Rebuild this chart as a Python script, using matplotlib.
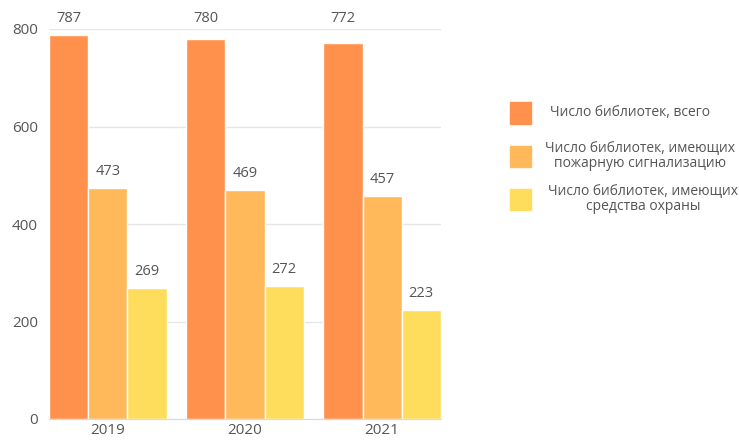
import matplotlib
matplotlib.use("Agg")
import matplotlib.pyplot as plt
from matplotlib.patches import Rectangle
import numpy as np

years = ["2019", "2020", "2021"]
series_names = ["Число библиотек, всего",
                "Число библиотек, имеющих\nпожарную сигнализацию",
                "Число библиотек, имеющих\nсредства охраны"]
total = [787, 780, 772]
fire_alarm = [473, 469, 457]
security = [269, 272, 223]
colors = ["#FF914D", "#FFB95A", "#FFDD5C"]
yticks = [0, 200, 400, 600, 800]

plt.rcParams['font.family'] = ['Open Sans', 'DejaVu Sans']

fig = plt.figure(figsize=(7.39, 4.41), dpi=100)
ax = fig.add_axes([49/739, 1-419/441, (441-49)/739, (419-29)/441])

x = np.arange(len(years))
w = 0.285
ymax = 800
label_top = 822  # labels that would pass the plot top share one height
for i, (vals, c) in enumerate(zip([total, fire_alarm, security], colors)):
    pos = x + (i - 1) * w
    bars = ax.bar(pos, vals, width=w, color=c, edgecolor="white", linewidth=1, zorder=3)
    for b, v in zip(bars, vals):
        ly = v + 34
        if ly > ymax:
            ly = label_top
        ax.text(b.get_x() + b.get_width()/2, ly, str(v), ha="center", va="center",
                fontsize=10.5, color="#555555", clip_on=False)

ax.set_xlim(-0.43, 2.43)
ax.set_ylim(0, ymax)
ax.set_yticks(yticks)
ax.set_yticklabels([str(t) for t in yticks])
ax.set_xticks(x)
ax.set_xticklabels(years)
ax.tick_params(axis="both", length=0, labelsize=11, colors="#555555")
ax.tick_params(axis="x", pad=3)
ax.tick_params(axis="y", pad=8)
ax.grid(axis="y", color="#e6e6e6", linewidth=1, zorder=0)
for s in ["top", "right", "left"]:
    ax.spines[s].set_visible(False)
ax.spines["bottom"].set_color("#d9d9d9")
ax.spines["bottom"].set_zorder(4)

# legend
rows_y = [113, 156, 199]
text_x = [630, 640, 643]
for yc, tx, c, name in zip(rows_y, text_x, colors, series_names):
    fig.patches.append(Rectangle((510/739, 1-(yc+10.5)/441), 21/739, 21/441,
                                 transform=fig.transFigure, color=c, figure=fig))
    fig.text(tx/739, 1-yc/441, name, ha="center", va="center", multialignment="center",
             fontsize=10, color="#555555", linespacing=1.05)

fig.savefig("out.png", dpi=100)
